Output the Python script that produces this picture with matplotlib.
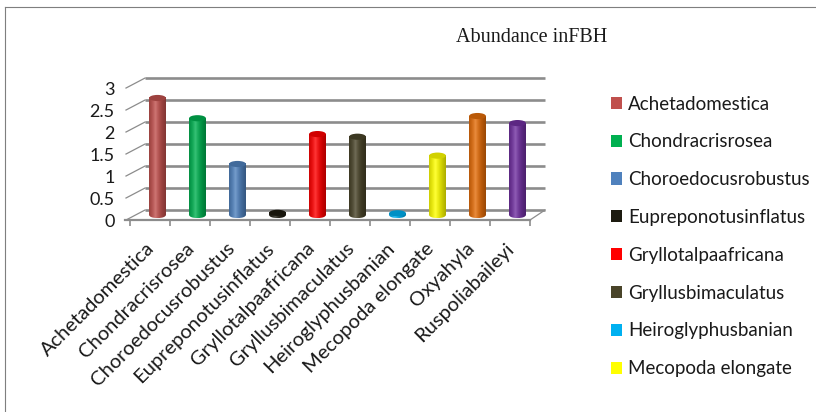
import numpy as np
import matplotlib
matplotlib.use("Agg")
import matplotlib.pyplot as plt
import matplotlib.colors as mcolors
from matplotlib.patches import Ellipse, Patch
from matplotlib.lines import Line2D

plt.rcParams['font.family'] = ['Lato', 'DejaVu Sans']

# ---- data ----
species = ["Achetadomestica", "Chondracrisrosea", "Choroedocusrobustus",
           "Eupreponotusinflatus", "Gryllotalpaafricana", "Gryllusbimaculatus",
           "Heiroglyphusbanian", "Mecopoda elongate", "Oxyahyla", "Ruspoliabaileyi"]
abundance = [2.66, 2.20, 1.16, 0.05, 1.84, 1.78, 0.04, 1.35, 2.25, 2.09]
colors = ["#C0504D", "#00B050", "#4F81BD", "#1D1B10", "#FF0000",
          "#494429", "#00B0F0", "#FFFF00", "#E36C09", "#7030A0"]
yticks = [0, 0.5, 1, 1.5, 2, 2.5, 3]
title = "Abundance inFBH"
n_legend = 8   # the legend box only had room for the first eight entries

GRID = "#8C8C8C"
DX, DY = 0.375, 0.227      # fake 3-D depth offset (data units)
BW, EH = 0.42, 0.14        # cylinder width, ellipse height


def cyl_gradient(color, n=40):
    rgb = np.array(mcolors.to_rgb(color))
    t = np.linspace(0, 1, n)
    light = np.clip(1 - np.abs(t - 0.38) / 0.62, 0, 1)
    cols = rgb[None, :] * (0.68 + 0.32 * light[:, None])
    cols = cols + (1 - cols) * 0.22 * light[:, None] ** 3
    return np.clip(cols, 0, 1)[None, :, :]


fig = plt.figure(figsize=(8.16, 4.12), dpi=100)
W, H = 816, 412
# axes in pixel box x 120..560, y 70..230
ax = fig.add_axes([120 / W, (H - 230) / H, 440 / W, 160 / H])
ax.patch.set_alpha(0)

n = len(species)

# back wall gridlines and side-wall diagonals
for v in yticks:
    ax.plot([DX, n + DX], [v + DY, v + DY], color=GRID, lw=1.9, zorder=1,
            solid_capstyle='butt')
    ax.plot([-0.1, DX], [v, v + DY], color=GRID, lw=0.9, zorder=1)

# floor edge on the right
ax.plot([n, n + DX], [0, DY], color=GRID, lw=0.9, zorder=1)

# cylinders
for i, (v, c) in enumerate(zip(abundance, colors)):
    cx = i + 0.5 + DX / 2
    x0 = cx - BW / 2
    y0 = DY / 2
    grad = cyl_gradient(c)
    ax.imshow(grad, extent=[x0, x0 + BW, y0, y0 + v], aspect='auto',
              interpolation='bilinear', zorder=3)
    bot = Ellipse((cx, y0), BW, EH, transform=ax.transData)
    im = ax.imshow(grad, extent=[x0, x0 + BW, y0 - EH / 2, y0 + EH / 2],
                   aspect='auto', interpolation='bilinear', zorder=3)
    im.set_clip_path(bot)
    top_c = np.array(mcolors.to_rgb(c)) * 0.82
    ax.add_patch(Ellipse((cx, y0 + v), BW, EH, facecolor=top_c,
                         edgecolor='none', zorder=4))

# axes styling
ax.set_xlim(-0.25, 10.75)
ax.set_ylim(-0.227, 3.41)
for s in ['top', 'right', 'left']:
    ax.spines[s].set_visible(False)
ax.spines['bottom'].set_position(('data', 0))
ax.spines['bottom'].set_bounds(-0.125, n)
ax.spines['bottom'].set_color(GRID)
ax.spines['bottom'].set_linewidth(1.6)

ax.set_xticks(np.arange(n) + 0.5 + DX / 2)
ax.set_xticklabels(species, rotation=45, ha='right', fontsize=14.5,
                   color='#1a1a1a')
ax.tick_params(axis='x', which='major', length=0, pad=14)
ax.set_xticks(np.arange(n + 1), minor=True)
ax.tick_params(axis='x', which='minor', length=4, width=1.2, color=GRID)

ax.set_yticks(yticks)
ax.set_yticklabels([f"{t:g}" for t in yticks], fontsize=13, color='#1a1a1a')
ax.tick_params(axis='y', length=0, pad=4)

# legend
handles = [Patch(facecolor=c, edgecolor='none') for c in colors[:n_legend]]
fig.legend(handles, species[:n_legend], loc='upper left',
           bbox_to_anchor=(603 / W, 1 - 88 / H),
           frameon=False, fontsize=13.5, handlelength=0.62, handleheight=0.62,
           handletextpad=0.32, labelspacing=1.11, borderaxespad=0,
           labelcolor='#1a1a1a')

fig.text(532 / W, 1 - 38 / H, title, ha='center', va='center',
         fontsize=14.5, family='Liberation Serif', color='#1a1a1a')

# outer chart border (top and left visible)
fig.add_artist(Line2D([5 / W, 5 / W], [0, 1 - 7 / H], color='#7F7F7F', lw=0.8))
fig.add_artist(Line2D([5 / W, 1], [1 - 7 / H, 1 - 7 / H], color='#7F7F7F', lw=0.8))

fig.savefig("out.png", dpi=100)
